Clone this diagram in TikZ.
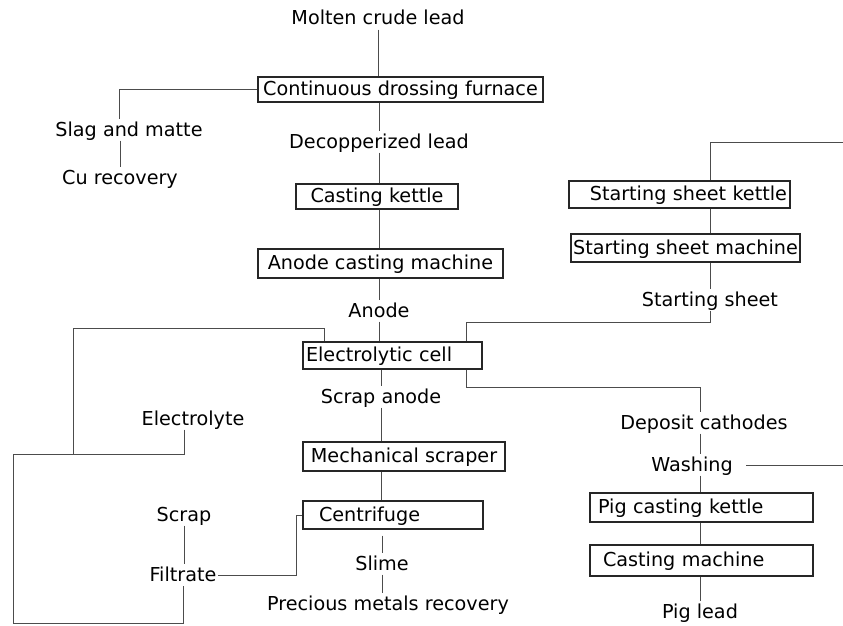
\documentclass[tikz,border=0pt]{standalone}
\usepackage{fontspec}
\setmainfont{DejaVu Sans}
\begin{document}
\begin{tikzpicture}[x=1pt,y=-1pt,font=\fontsize{19.2pt}{22pt}\selectfont,
  lbl/.style={inner sep=1.5pt, text height=15pt, text depth=3pt},
  bx/.style={draw=black!85, line width=1.2pt, inner ysep=0pt, text height=15pt, text depth=3pt},
  ln/.style={line width=0.8pt, draw=black!70}]
\fill[white] (0,0) rectangle (843,626);
\useasboundingbox (0,0) rectangle (843,626);

% boxes
\node[bx, minimum width=285pt, minimum height=25pt, inner xsep=0pt] (furnace) at (400.5,89.5) {Continuous drossing furnace};
\node[bx, minimum width=162pt, minimum height=25pt, inner xsep=0pt] (kettle) at (377,196.5) {Casting kettle};
\node[bx, minimum width=245pt, minimum height=29pt, inner xsep=0pt] (acm) at (380.5,263.5) {Anode casting machine};
\node[bx, text width=173pt, inner xsep=3pt, align=left, minimum height=27pt] (cell) at (392.5,355.5) {Electrolytic cell};
\node[bx, minimum width=202pt, minimum height=29pt, inner xsep=0pt] (scraper) at (404,456.5) {Mechanical scraper};
\node[bx, text width=148pt, inner xsep=16pt, align=left, minimum height=28pt] (centrifuge) at (393,515) {Centrifuge};
\node[bx, text width=215pt, inner xsep=3pt, align=right, minimum height=27pt] (ssk) at (679.5,194.5) {Starting sheet kettle};
\node[bx, minimum width=229pt, minimum height=28pt, inner xsep=0pt] (ssm) at (685.5,248) {Starting sheet machine};
\node[bx, text width=207pt, inner xsep=8pt, align=left, minimum height=29pt] (pck) at (701.5,507.5) {Pig casting kettle};
\node[bx, text width=197pt, inner xsep=13pt, align=left, minimum height=31pt] (cm) at (701.5,560.5) {Casting machine};

% labels
\node[lbl] (molten) at (378,19) {Molten crude lead};
\node[lbl] (slag) at (129,130) {Slag and matte};
\node[lbl] (cu) at (120,178) {Cu recovery};
\node[lbl] (decop) at (379,142) {Decopperized lead};
\node[lbl] (anode) at (379,311) {Anode};
\node[lbl] (scrapanode) at (381,397) {Scrap anode};
\node[lbl] (electrolyte) at (193,419) {Electrolyte};
\node[lbl] (scrap) at (184,515) {Scrap};
\node[lbl] (filtrate) at (183,575) {Filtrate};
\node[lbl] (slime) at (382,564) {Slime};
\node[lbl] (precious) at (388,604) {Precious metals recovery};
\node[lbl] (ssheet) at (710,300) {Starting sheet};
\node[lbl] (deposit) at (704,423) {Deposit cathodes};
\node[lbl] (washing) at (692,465) {Washing};
\node[lbl] (piglead) at (700,612) {Pig lead};

% free coordinates
\coordinate (j1) at (73,454);
\coordinate (lt) at (13,454);
\coordinate (lb) at (13,623);
\coordinate (tr) at (843,142);
\coordinate (wr) at (843,464);

% main column
\draw[ln] (molten.south) -- (molten.south |- furnace.north);
\draw[ln] (furnace.west) -| ([xshift=-10pt]slag.north);
\draw[ln] (cu.north |- slag.south) -- (cu.north);
\draw[ln] (decop.north |- furnace.south) -- (decop.north);
\draw[ln] (decop.south) -- (decop.south |- kettle.north);
\draw[ln] (anode.north |- kettle.south) -- (anode.north |- acm.north);
\draw[ln] (anode.north |- acm.south) -- (anode.north);
\draw[ln] (anode.south) -- (anode.south |- cell.north);
\draw[ln] (scrapanode.north |- cell.south) -- (scrapanode.north);
\draw[ln] (scrapanode.south) -- (scrapanode.south |- scraper.north);
\draw[ln] (scrapanode.south |- scraper.south) -- (scrapanode.south |- centrifuge.north);
\draw[ln] ([yshift=-6pt]centrifuge.south -| slime.north) -- (slime.north);
\draw[ln] (slime.south) -- (slime.south |- precious.north);

% electrolyte loop
\draw[ln] ([xshift=22pt]cell.north west) -- ++(0,-13) -| (j1);
\draw[ln] (scrap.north |- electrolyte.south) -- (scrap.north |- lt) -- (lt) -- (lb) -| (filtrate.south);
\draw[ln] (scrap.south) -- (scrap.south |- filtrate.north);
\draw[ln] (filtrate.east) -| ([xshift=-6pt]centrifuge.west) -- (centrifuge.west);

% starting sheet
\draw[ln] (tr) -| (ssheet.north |- ssk.north);
\draw[ln] (ssheet.north |- ssk.south) -- (ssheet.north |- ssm.north);
\draw[ln] (ssheet.north |- ssm.south) -- (ssheet.north);
\draw[ln] (ssheet.south) -- ++(0,12) -| ([xshift=-16pt]cell.north east);

% cathodes
\draw[ln] ([xshift=-16pt]cell.south east) -- ++(0,18) -| (piglead.north |- deposit.north);
\draw[ln] (piglead.north |- deposit.south) -- (piglead.north |- washing.north);
\draw[ln] ([xshift=12pt]washing.east) -- ([xshift=12pt]washing.east -| wr);
\draw[ln] (piglead.north |- washing.south) -- (piglead.north |- pck.north);
\draw[ln] (piglead.north |- pck.south) -- (piglead.north |- cm.north);
\draw[ln] (piglead.north |- cm.south) -- (piglead.north);
\end{tikzpicture}
\end{document}
